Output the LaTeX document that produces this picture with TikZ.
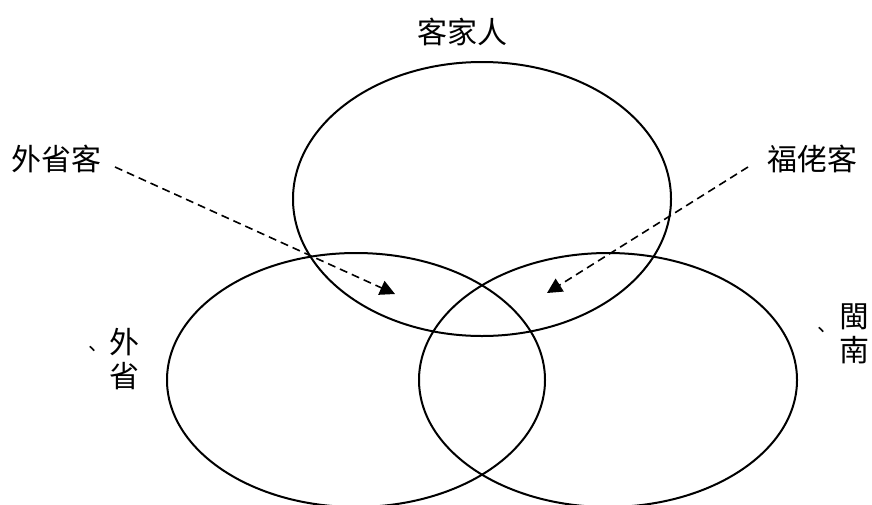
\documentclass[tikz,border=0pt]{standalone}
\usepackage{fontspec}
\newfontfamily\cjk{Noto Sans CJK TC}
\usetikzlibrary{arrows.meta}
\tikzset{
  ring/.style={draw=black, line width=2pt},
  lbl/.style={font=\cjk\fontsize{30}{34}\selectfont, inner sep=0pt, text=black},
  commalbl/.style={font=\cjk\fontsize{20}{20}\selectfont, inner sep=0pt, text=black},
  pointer/.style={draw=black, line width=1.6pt, dash pattern=on 8pt off 5pt, -{Triangle[length=15pt,width=15pt]}}
}
\begin{document}
\begin{tikzpicture}[x=1pt,y=-1pt]
\useasboundingbox (0,0) rectangle (872,504);
\fill[white] (0,0) rectangle (872,504);
% ellipses
\draw[ring] (482,199) ellipse [x radius=189pt, y radius=137pt];
\draw[ring] (356,380) ellipse [x radius=189pt, y radius=127pt];
\draw[ring] (608,380) ellipse [x radius=189pt, y radius=127pt];
% labels
\node[lbl] (hakka) at (462,32) {客家人};
\node[lbl] (wsk) at (57,159) {外省客};
\node[lbl] (flk) at (812,159) {福佬客};
\node[lbl, align=center, anchor=north] (ws) at (124,328) {外\\省};
\node[commalbl] (wsc) at (92,351) {、};
\node[lbl, align=center, anchor=north] (mn) at (854,304) {閩\\南};
\node[commalbl] (mnc) at (821,332) {、};
% arrows
\coordinate (a1s) at (115,167);
\coordinate (a1e) at (395,294);
\coordinate (a2s) at (748,167);
\coordinate (a2e) at (547,293);
\draw[pointer] (a1s) -- (a1e);
\draw[pointer] (a2s) -- (a2e);
\end{tikzpicture}
\end{document}
